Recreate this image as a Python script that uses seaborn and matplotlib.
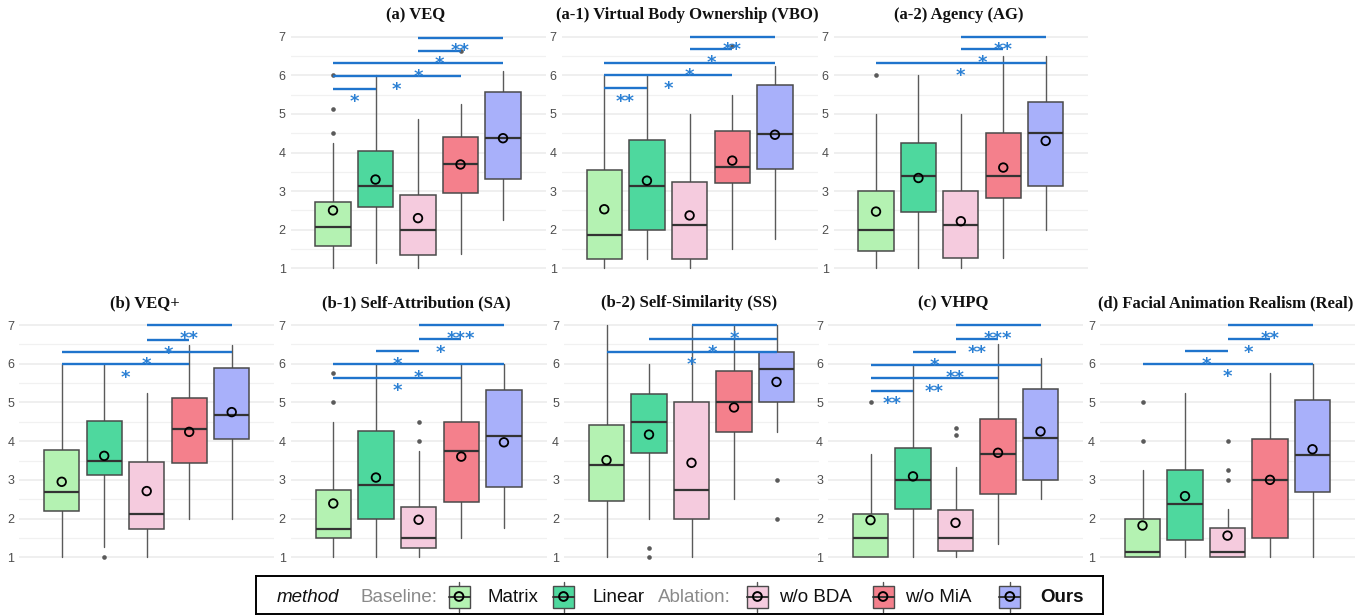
import numpy as np
import pandas as pd
import matplotlib
matplotlib.use("Agg")
import matplotlib.pyplot as plt
import seaborn as sns
from matplotlib.patches import Rectangle

# ---------------- data ----------------
methods = ["Matrix", "Linear", "w/o BDA", "w/o MiA", "Ours"]
fills = ["#b4f2b2", "#4ed89e", "#f5cbde", "#f4808c", "#a8b0fa"]

# (a) VEQ
veq_q1 = [1.59, 2.60, 1.34, 2.94, 3.31]
veq_med = [2.07, 3.13, 2.00, 3.69, 4.38]
veq_q3 = [2.73, 4.03, 2.91, 4.41, 5.57]
veq_lo = [1.00, 1.13, 1.00, 1.37, 2.25]
veq_hi = [4.24, 6.00, 4.88, 5.25, 6.12]
veq_mean = [2.50, 3.30, 2.30, 3.69, 4.37]
veq_out = [[4.5, 5.13, 6.0], [], [], [6.63], []]
veq_sig = [(0, 1, 5.65, "*"), (0, 3, 5.97, "*"), (0, 4, 6.31, "*"), (2, 3, 6.64, "*"), (2, 4, 6.97, "**")]

# (a-1) VBO
vbo_q1 = [1.25, 2.00, 1.25, 3.20, 3.56]
vbo_med = [1.87, 3.13, 2.12, 3.63, 4.49]
vbo_q3 = [3.55, 4.32, 3.24, 4.55, 5.74]
vbo_lo = [1.00, 1.25, 1.00, 1.50, 1.75]
vbo_hi = [6.00, 6.00, 5.00, 5.50, 6.24]
vbo_mean = [2.53, 3.27, 2.37, 3.79, 4.46]
vbo_out = [[], [], [], [6.75], []]
vbo_sig = [(0, 1, 5.66, "**"), (0, 3, 6.00, "*"), (0, 4, 6.33, "*"), (2, 3, 6.67, "*"), (2, 4, 7.00, "**")]

# (a-2) AG
ag_q1 = [1.44, 2.45, 1.26, 2.81, 3.13]
ag_med = [2.00, 3.38, 2.13, 3.38, 4.50]
ag_q3 = [3.00, 4.25, 3.00, 4.50, 5.32]
ag_lo = [1.00, 1.00, 1.00, 1.26, 2.00]
ag_hi = [5.00, 6.00, 5.00, 6.50, 6.50]
ag_mean = [2.47, 3.34, 2.22, 3.61, 4.30]
ag_out = [[6.0], [], [], [], []]
ag_sig = [(0, 4, 6.33, "*"), (2, 3, 6.67, "*"), (2, 4, 7.00, "**")]

# (b) VEQ+
veqp_q1 = [2.20, 3.13, 1.72, 3.44, 4.06]
veqp_med = [2.69, 3.50, 2.13, 4.31, 4.68]
veqp_q3 = [3.77, 4.52, 3.46, 5.12, 5.90]
veqp_lo = [1.00, 1.26, 1.00, 2.00, 2.00]
veqp_hi = [6.00, 6.00, 5.24, 6.48, 6.48]
veqp_mean = [2.95, 3.62, 2.71, 4.24, 4.75]
veqp_out = [[], [1.0], [], [], []]
veqp_sig = [(0, 3, 5.98, "*"), (0, 4, 6.31, "*"), (2, 3, 6.61, "*"), (2, 4, 7.00, "**")]

# (b-1) SA
sa_q1 = [1.49, 2.00, 1.25, 2.44, 2.81]
sa_med = [1.74, 2.88, 1.50, 3.75, 4.13]
sa_q3 = [2.74, 4.25, 2.31, 4.49, 5.32]
sa_lo = [1.00, 1.00, 1.00, 1.50, 1.75]
sa_hi = [4.49, 6.00, 3.74, 6.00, 6.00]
sa_mean = [2.39, 3.06, 1.97, 3.60, 3.97]
sa_out = [[5.0, 5.75], [], [4.0, 4.5], [], []]
sa_sig = [(0, 3, 5.64, "*"), (0, 4, 5.99, "*"), (1, 2, 6.33, "*"), (2, 3, 6.63, "*"), (2, 4, 7.00, "***")]

# (b-2) SS
ss_q1 = [2.45, 3.69, 2.00, 4.24, 5.00]
ss_med = [3.38, 4.49, 2.75, 5.00, 5.86]
ss_q3 = [4.43, 5.23, 5.00, 5.80, 6.30]
ss_lo = [1.00, 2.00, 1.00, 2.50, 4.24]
ss_hi = [7.00, 6.00, 7.00, 7.00, 7.00]
ss_mean = [3.51, 4.17, 3.44, 4.87, 5.53]
ss_out = [[], [1.25, 1.0], [], [], [3.0, 2.0]]
ss_sig = [(0, 4, 6.31, "*"), (1, 4, 6.64, "*"), (2, 4, 7.00, "*")]

# (c) VHPQ
vhpq_q1 = [1.00, 2.25, 1.17, 2.63, 3.00]
vhpq_med = [1.50, 3.00, 1.50, 3.66, 4.09]
vhpq_q3 = [2.13, 3.83, 2.22, 4.58, 5.36]
vhpq_lo = [1.00, 1.00, 1.00, 1.34, 2.50]
vhpq_hi = [3.66, 6.00, 3.32, 6.50, 6.14]
vhpq_mean = [1.96, 3.09, 1.89, 3.70, 4.25]
vhpq_out = [[5.0], [], [4.33, 4.16], [], []]
vhpq_sig = [(0, 1, 5.30, "**"), (0, 3, 5.63, "**"), (0, 4, 5.97, "**"), (1, 2, 6.30, "*"),
            (2, 3, 6.63, "**"), (2, 4, 6.99, "***")]

# (d) Real
real_q1 = [1.00, 1.44, 1.00, 1.50, 2.69]
real_med = [1.13, 2.38, 1.13, 3.00, 3.63]
real_q3 = [2.00, 3.25, 1.75, 4.06, 5.07]
real_lo = [1.00, 1.00, 1.00, 1.00, 1.00]
real_hi = [3.25, 5.25, 2.25, 5.75, 6.00]
real_mean = [1.82, 2.58, 1.56, 3.00, 3.79]
real_out = [[4.0, 5.0], [], [3.0, 3.25, 4.0], [], []]
real_sig = [(0, 4, 6.00, "*"), (1, 2, 6.33, "*"), (2, 3, 6.63, "*"), (2, 4, 7.00, "**")]

titles = ["(a) VEQ", "(a-1) Virtual Body Ownership (VBO)", "(a-2) Agency (AG)",
          "(b) VEQ+", "(b-1) Self-Attribution (SA)", "(b-2) Self-Similarity (SS)",
          "(c) VHPQ", "(d) Facial Animation Realism (Real)"]

panels = [
    (veq_q1, veq_med, veq_q3, veq_lo, veq_hi, veq_mean, veq_out, veq_sig),
    (vbo_q1, vbo_med, vbo_q3, vbo_lo, vbo_hi, vbo_mean, vbo_out, vbo_sig),
    (ag_q1, ag_med, ag_q3, ag_lo, ag_hi, ag_mean, ag_out, ag_sig),
    (veqp_q1, veqp_med, veqp_q3, veqp_lo, veqp_hi, veqp_mean, veqp_out, veqp_sig),
    (sa_q1, sa_med, sa_q3, sa_lo, sa_hi, sa_mean, sa_out, sa_sig),
    (ss_q1, ss_med, ss_q3, ss_lo, ss_hi, ss_mean, ss_out, ss_sig),
    (vhpq_q1, vhpq_med, vhpq_q3, vhpq_lo, vhpq_hi, vhpq_mean, vhpq_out, vhpq_sig),
    (real_q1, real_med, real_q3, real_lo, real_hi, real_mean, real_out, real_sig),
]

# ---------------- layout (pixels) ----------------
W, H = 1368, 616
TOP_T, TOP_H = 25.1, 254.8
BOT_T, BOT_H = 313.4, 255.5
boxes_px = [
    (290.5, TOP_T, 255, TOP_H), (561.6, TOP_T, 256, TOP_H), (833.6, TOP_T, 254.5, TOP_H),
    (19.2, BOT_T, 255, BOT_H), (290.6, BOT_T, 256, BOT_H), (564.0, BOT_T, 255, BOT_H),
    (828.0, BOT_T, 255, BOT_H), (1100.0, BOT_T, 255, BOT_H),
]

sns.set_theme(style="whitegrid")
plt.rcParams["font.family"] = ["Liberation Sans", "DejaVu Sans"]

fig = plt.figure(figsize=(W / 100, H / 100), dpi=100)
fig.patch.set_facecolor("white")

SIG_COLOR = "#1f74cc"


def px_axes(l, t, w, h):
    return fig.add_axes([l / W, 1 - (t + h) / H, w / W, h / H])


for (l, t, w, h), title, data in zip(boxes_px, titles, panels):
    q1, med, q3, lo, hi, mean, outs, sig = data
    ax = px_axes(l, t, w, h)
    ax.set_facecolor("white")

    stats = [dict(med=med[i], q1=q1[i], q3=q3[i], whislo=lo[i], whishi=hi[i],
                  fliers=[]) for i in range(5)]
    bp = ax.bxp(stats, positions=range(5), widths=0.83, patch_artist=True,
                showfliers=False, showcaps=False, manage_ticks=False,
                boxprops=dict(edgecolor="#4a4a4a", linewidth=1.1),
                medianprops=dict(color="#333333", linewidth=1.6),
                whiskerprops=dict(color="#5a5a5a", linewidth=1.0))
    for patch, c in zip(bp["boxes"], fills):
        patch.set_facecolor(c)
        patch.set_zorder(2)
    for ln in bp["whiskers"]:
        ln.set_zorder(1.5)
    for ln in bp["medians"]:
        ln.set_zorder(3)

    ax.set_xlim(-1, 5)
    ax.set_ylim(0.7, 7.3)
    for s in ax.spines.values():
        s.set_visible(False)
    ax.set_yticks(range(1, 8))
    ax.set_yticks(np.arange(1.5, 7.0, 1.0), minor=True)
    ax.set_xticks(range(5))
    ax.set_xticklabels([""] * 5)
    ax.grid(False)
    ax.grid(axis="y", which="major", color="#ebebeb", lw=1.1, zorder=0)
    ax.grid(axis="y", which="minor", color="#f1f1f1", lw=0.9, zorder=0)
    ax.set_axisbelow(True)
    ax.tick_params(axis="x", which="major", length=2, width=0.8, color="#b0b0b0", pad=0)
    ax.tick_params(axis="y", which="major", length=2.5, width=0.8, color="#555555",
                   labelsize=9, labelcolor="#4d4d4d", pad=1)
    ax.tick_params(axis="y", which="minor", length=0)

    # outliers
    ox = [i for i in range(5) for _ in outs[i]]
    oy = [v for i in range(5) for v in outs[i]]
    if ox:
        sns.scatterplot(x=ox, y=oy, ax=ax, color="#5a5a5a", s=11, linewidth=0,
                        zorder=4, legend=False)
    # means
    mdf = pd.DataFrame({"pos": range(5), "mean": mean})
    ax.scatter(mdf["pos"], mdf["mean"], s=38, facecolors="none", edgecolors="black",
               linewidths=1.3, zorder=6)

    # significance brackets
    for i, j, y, lab in sig:
        ax.hlines(y, i, j, color=SIG_COLOR, lw=1.7, zorder=7)
        ax.text((i + j) / 2, y - 0.48, lab, ha="center", va="baseline",
                fontsize=13, fontweight="bold", color="#2b80d4",
                family="DejaVu Sans", zorder=8)

    ax.annotate(title, xy=(0.5, 1.0), xycoords="axes fraction", xytext=(-1.5, 7.3),
                textcoords="offset points", ha="center", va="center", fontsize=12,
                fontweight="bold", family="Liberation Serif", color="#111111")

# ---------------- legend ----------------
lax = px_axes(255.5, 575.5, 847.5, 38.5)
lax.set_xlim(255.5, 1103)
lax.set_ylim(614, 575.5)
lax.set_xticks([])
lax.set_yticks([])
lax.grid(False)
lax.set_facecolor("white")
for s in lax.spines.values():
    s.set_visible(True)
    s.set_color("black")
    s.set_linewidth(1.4)

ty = 597
lfs = 13.5
lax.text(277, ty, "method", fontsize=lfs, style="italic", color="#111111", va="center", ha="left")
lax.text(361, ty, "Baseline:", fontsize=lfs, color="#8a8a8a", va="center", ha="left")
lax.text(657.6, ty, "Ablation:", fontsize=lfs, color="#8a8a8a", va="center", ha="left")

key_cx = [459.0, 563.5, 757.4, 883.0, 1009.8]
label_x = [487.5, 592.0, 779.0, 905.5, 1040.0]
for k in range(5):
    cx = key_cx[k]
    lax.plot([cx, cx], [582, 612], color="#555555", lw=1.0, zorder=1)
    lax.add_patch(Rectangle((cx - 10.5, 585.5), 21, 22, facecolor=fills[k],
                            edgecolor="#4a4a4a", lw=1.0, zorder=2))
    lax.plot([cx - 10.5, cx + 10.5], [596.5, 596.5], color="#333333", lw=1.4, zorder=3)
    lax.scatter([cx], [596.5], s=40, facecolors="none", edgecolors="black",
                linewidths=1.4, zorder=4)
    lax.text(label_x[k], ty, methods[k], fontsize=lfs, color="#111111", va="center",
             ha="left", fontweight="bold" if methods[k] == "Ours" else "normal")

fig.savefig("out.png", dpi=100, facecolor="white")
